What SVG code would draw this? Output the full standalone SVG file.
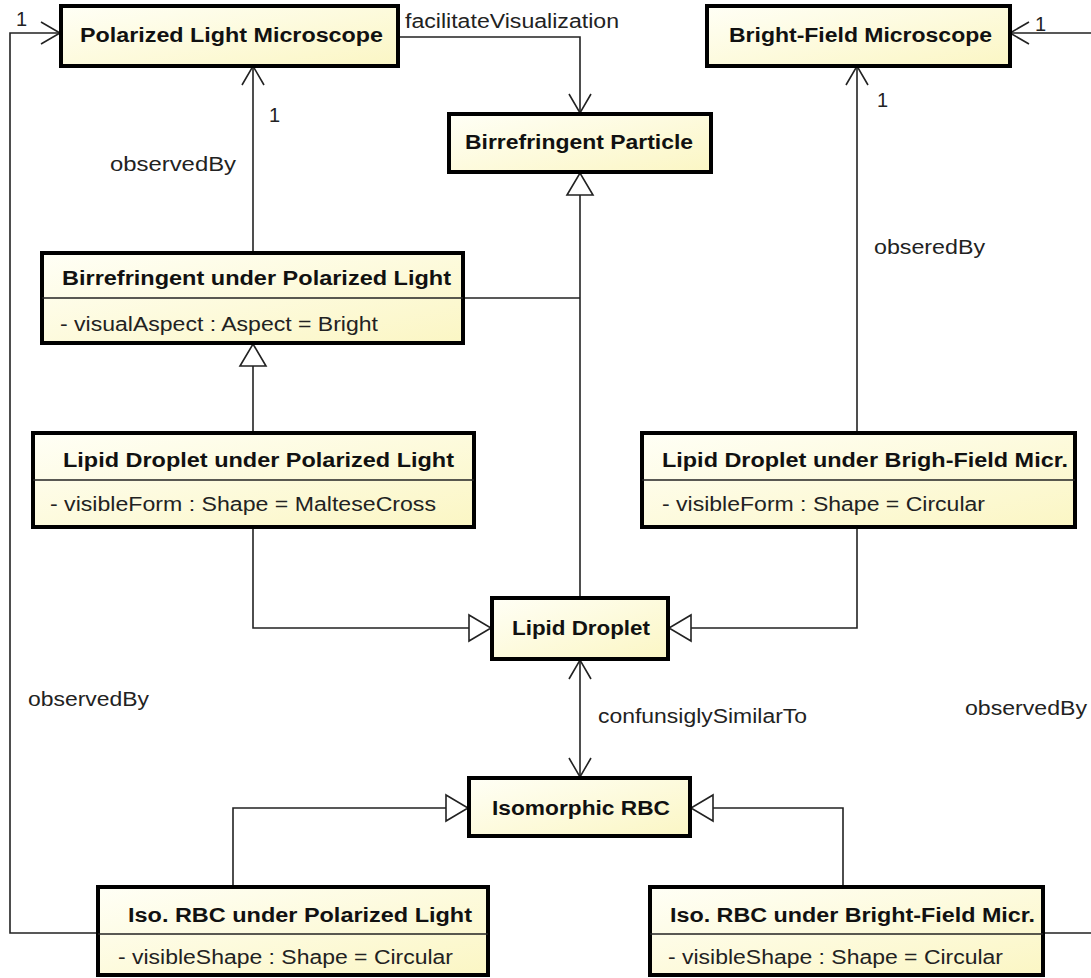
<svg xmlns="http://www.w3.org/2000/svg" width="1091" height="978" viewBox="0 0 1091 978">
  <defs>
    <linearGradient id="classFill" x1="0" y1="0" x2="1" y2="1">
      <stop offset="0" stop-color="#fffff6"/>
      <stop offset="1" stop-color="#fbf6c4"/>
    </linearGradient>
    <!-- open (navigable) association arrow -->
    <marker id="open" viewBox="-21 -13 23 26" refX="0" refY="0" markerWidth="23" markerHeight="26" markerUnits="userSpaceOnUse" orient="auto-start-reverse">
      <path d="M-19,-11 L0,0 L-19,11" fill="none" stroke="#222" stroke-width="1.6"/>
    </marker>
    <!-- hollow generalization triangle -->
    <marker id="gen" viewBox="-24 -15 26 30" refX="0" refY="0" markerWidth="26" markerHeight="30" markerUnits="userSpaceOnUse" orient="auto">
      <path d="M-22,-13 L0,0 L-22,13 Z" fill="#fff" stroke="#222" stroke-width="1.6"/>
    </marker>
  </defs>
  <style>
    .box { fill: url(#classFill); stroke: #000; stroke-width: 4; }
    .div { stroke: #222; stroke-width: 1.5; }
    .title { font-family: "Liberation Sans", Arial, sans-serif; font-weight: bold; font-size: 20px; fill: #111; }
    .attr { font-family: "Liberation Sans", Arial, sans-serif; font-size: 20px; fill: #222; }
    .lbl { font-family: "Liberation Sans", Arial, sans-serif; font-size: 20px; fill: #222; }
    .edge { fill: none; stroke: #222; stroke-width: 1.6; }
  </style>
  <rect width="1091" height="978" fill="#fff"/>

  <g id="connectors">
    <!-- observedBy: Iso. RBC under Polarized Light -> Polarized Light Microscope -->
    <path class="edge" d="M98,933 H10 V33 H60" marker-end="url(#open)"/>
    <!-- observedBy: Iso. RBC under Bright-Field Micr. -> Bright-Field Microscope -->
    <path class="edge" d="M1043,933 H1100 V33 H1010" marker-end="url(#open)"/>
    <!-- facilitateVisualization -->
    <path class="edge" d="M398,37 H580 V113" marker-end="url(#open)"/>
    <!-- observedBy: Birrefringent under Polarized Light -> Polarized Light Microscope -->
    <path class="edge" d="M253,253 V66" marker-end="url(#open)"/>
    <!-- obseredBy: Lipid Droplet under Brigh-Field -> Bright-Field Microscope -->
    <path class="edge" d="M857,433 V66" marker-end="url(#open)"/>
    <!-- generalizations to Birrefringent Particle -->
    <path class="edge" d="M463,298 H580"/>
    <path class="edge" d="M580,598 V173" marker-end="url(#gen)"/>
    <!-- Lipid Droplet under Polarized Light -> Birrefringent under Polarized Light -->
    <path class="edge" d="M253,433 V344" marker-end="url(#gen)"/>
    <!-- specializations of Lipid Droplet -->
    <path class="edge" d="M253,527 V628 H491" marker-end="url(#gen)"/>
    <path class="edge" d="M857,527 V628 H669" marker-end="url(#gen)"/>
    <!-- confunsiglySimilarTo -->
    <path class="edge" d="M580,660 V777" marker-start="url(#open)" marker-end="url(#open)"/>
    <!-- specializations of Isomorphic RBC -->
    <path class="edge" d="M233,887 V808 H468" marker-end="url(#gen)"/>
    <path class="edge" d="M843,887 V808 H691" marker-end="url(#gen)"/>

    <text class="lbl" x="16" y="26">1</text>
    <text class="lbl" x="1035" y="31">1</text>
    <text class="lbl" x="405" y="28" textLength="214" lengthAdjust="spacingAndGlyphs">facilitateVisualization</text>
    <text class="lbl" x="269" y="122">1</text>
    <text class="lbl" x="877" y="107">1</text>
    <text class="lbl" x="110" y="171" textLength="126" lengthAdjust="spacingAndGlyphs">observedBy</text>
    <text class="lbl" x="874" y="254" textLength="111" lengthAdjust="spacingAndGlyphs">obseredBy</text>
    <text class="lbl" x="28" y="706" textLength="121" lengthAdjust="spacingAndGlyphs">observedBy</text>
    <text class="lbl" x="598" y="723" textLength="209" lengthAdjust="spacingAndGlyphs">confunsiglySimilarTo</text>
    <text class="lbl" x="965" y="715" textLength="122" lengthAdjust="spacingAndGlyphs">observedBy</text>
  </g>

  <g id="polarized-light-microscope">
    <rect class="box" x="61" y="6" width="337" height="60"/>
    <text class="title" x="80" y="42" textLength="303" lengthAdjust="spacingAndGlyphs">Polarized Light Microscope</text>
  </g>

  <g id="bright-field-microscope">
    <rect class="box" x="707" y="6" width="303" height="60"/>
    <text class="title" x="729" y="42" textLength="263" lengthAdjust="spacingAndGlyphs">Bright-Field Microscope</text>
  </g>

  <g id="birrefringent-particle">
    <rect class="box" x="449" y="114" width="262" height="58"/>
    <text class="title" x="465" y="149" textLength="228" lengthAdjust="spacingAndGlyphs">Birrefringent Particle</text>
  </g>

  <g id="birrefringent-under-polarized-light">
    <rect class="box" x="42" y="253" width="421" height="90"/>
    <line class="div" x1="42" y1="298" x2="463" y2="298"/>
    <text class="title" x="62" y="285" textLength="389" lengthAdjust="spacingAndGlyphs">Birrefringent under Polarized Light</text>
    <text class="attr" x="60" y="331" textLength="318" lengthAdjust="spacingAndGlyphs">- visualAspect : Aspect = Bright</text>
  </g>

  <g id="lipid-droplet-under-polarized-light">
    <rect class="box" x="33" y="433" width="441" height="94"/>
    <line class="div" x1="33" y1="480" x2="474" y2="480"/>
    <text class="title" x="63" y="467" textLength="391" lengthAdjust="spacingAndGlyphs">Lipid Droplet under Polarized Light</text>
    <text class="attr" x="50" y="511" textLength="386" lengthAdjust="spacingAndGlyphs">- visibleForm : Shape = MalteseCross</text>
  </g>

  <g id="lipid-droplet-under-bright-field">
    <rect class="box" x="642" y="433" width="433" height="94"/>
    <line class="div" x1="642" y1="480" x2="1075" y2="480"/>
    <text class="title" x="662" y="467" textLength="406" lengthAdjust="spacingAndGlyphs">Lipid Droplet under Brigh-Field Micr.</text>
    <text class="attr" x="662" y="511" textLength="323" lengthAdjust="spacingAndGlyphs">- visibleForm : Shape = Circular</text>
  </g>

  <g id="lipid-droplet">
    <rect class="box" x="492" y="598" width="176" height="61"/>
    <text class="title" x="512" y="635" textLength="138" lengthAdjust="spacingAndGlyphs">Lipid Droplet</text>
  </g>

  <g id="isomorphic-rbc">
    <rect class="box" x="469" y="778" width="221" height="58"/>
    <text class="title" x="492" y="815" textLength="178" lengthAdjust="spacingAndGlyphs">Isomorphic RBC</text>
  </g>

  <g id="iso-rbc-under-polarized-light">
    <rect class="box" x="98" y="887" width="390" height="88"/>
    <line class="div" x1="98" y1="934" x2="488" y2="934"/>
    <text class="title" x="128" y="922" textLength="344" lengthAdjust="spacingAndGlyphs">Iso. RBC under Polarized Light</text>
    <text class="attr" x="118" y="964" textLength="335" lengthAdjust="spacingAndGlyphs">- visibleShape : Shape = Circular</text>
  </g>

  <g id="iso-rbc-under-bright-field">
    <rect class="box" x="650" y="887" width="393" height="88"/>
    <line class="div" x1="650" y1="934" x2="1043" y2="934"/>
    <text class="title" x="670" y="922" textLength="365" lengthAdjust="spacingAndGlyphs">Iso. RBC under Bright-Field Micr.</text>
    <text class="attr" x="668" y="964" textLength="335" lengthAdjust="spacingAndGlyphs">- visibleShape : Shape = Circular</text>
  </g>
</svg>
